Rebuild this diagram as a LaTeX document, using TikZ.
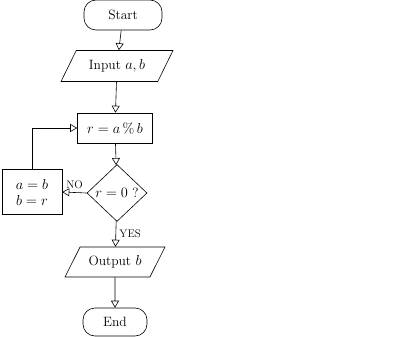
\documentclass[tikz,border=0pt]{standalone}
\usetikzlibrary{arrows.meta,positioning,shapes}

\begin{document}
\begin{tikzpicture}[
		x = 1pt, y = -1pt,
		line width = 0.6pt,
		font = \fontsize{13.5}{16}\selectfont,
		>= {Triangle[open, length = 7pt, width = 8pt]},
		terminal/.style = {draw, rounded corners = 12pt, minimum width = 78pt, minimum height = 30pt},
		io/.style = {draw, trapezium, trapezium left angle = 52, trapezium right angle = 128,
			trapezium stretches body, minimum width = 112pt, minimum height = 31pt},
		process/.style = {draw, minimum width = 75pt, minimum height = 30pt},
		decision/.style = {draw, diamond, minimum width = 60pt, minimum height = 50pt, inner sep = 1pt},
		tag/.style = {font = \fontsize{11}{13}\selectfont}
		]
\useasboundingbox (0,0) rectangle (399,337);

\node[terminal] (start) at (123,15) {Start};
\node[io] (input) at (117,66) {Input $a, b$};
\node[process] (rem) at (115,128) {$r = a\,\%\,b$};
\node[decision] (test) at (117,193) {$r = 0$ ?};
\node[process, minimum width = 60pt, minimum height = 45pt, align = center] (swap) at (32,192) {$a = b$\\$b = r$};
\node[io, minimum width = 100pt, minimum height = 30pt] (output) at (115,262) {Output $b$};
\node[terminal, minimum width = 64pt, minimum height = 28pt] (end) at (115,322) {End};

\draw[->] (start) -- (input);
\draw[->] (input) -- (rem);
\draw[->] (rem) -- (test);
\draw[->] (test) -- node[right, tag]{YES} (output);
\draw[->] (output) -- (end);
\draw[->] (test.west) -- node[above, tag]{NO} (swap.east);
\draw[->] (swap.north) |- (rem.west);

\end{tikzpicture}
\end{document}
